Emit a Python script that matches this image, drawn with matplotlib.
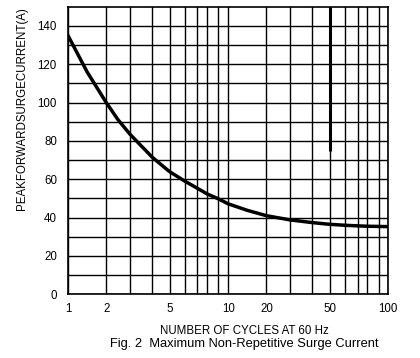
import matplotlib
matplotlib.use("Agg")
import matplotlib.pyplot as plt
import numpy as np

plt.rcParams['font.family'] = ['Liberation Sans', 'DejaVu Sans']

# surge current vs number of cycles
cycles = [1, 1.5, 2, 2.5, 3, 4, 5, 6, 7, 8, 9, 10, 15, 20, 30, 40, 50,
          60, 70, 80, 90, 100]
current = [135, 116, 100, 91, 83.5, 71.5, 64, 59, 55.3, 52.3, 49.8, 47.2,
           43.8, 41, 38.8, 37.4, 36.5, 36, 35.7, 35.5, 35.4, 35.3]

x_ticks = [1, 2, 5, 10, 20, 50, 100]
x_minor = [3, 4, 6, 7, 8, 9, 30, 40, 60, 70, 80, 90]
y_ticks = [0, 20, 40, 60, 80, 100, 120, 140]
y_minor = [10, 30, 50, 70, 90, 110, 130]

# the paper's log grid is not a true log: position of 1..10 within a decade
mant = np.arange(1, 11)
frac = [0, 0.239, 0.387, 0.526, 0.634, 0.730, 0.808, 0.870, 0.939, 1.0]


def fwd(x):
    x = np.clip(np.asarray(x, dtype=float), 1e-6, None)
    d = np.floor(np.log10(x) + 1e-12)
    m = x / 10.0**d
    return d + np.interp(m, mant, frac)


def inv(v):
    v = np.asarray(v, dtype=float)
    d = np.floor(v + 1e-12)
    return np.interp(v - d, frac, mant) * 10.0**d


fig = plt.figure(figsize=(4.2, 3.58), dpi=100)
ax = fig.add_axes([0.1619, 0.178, 0.7626, 0.803])
ax.set_xscale('function', functions=(fwd, inv))
ax.set_xlim(1, 100)
ax.set_ylim(0, 150)

ax.set_xticks(x_ticks)
ax.set_xticklabels([str(t) for t in x_ticks])
ax.set_xticks(x_minor, minor=True)
ax.set_yticks(y_ticks)
ax.set_yticks(y_minor, minor=True)
ax.tick_params(which='both', length=0, labelsize=8.3, colors='black')
ax.tick_params(axis='x', pad=6.5)
ax.tick_params(axis='y', pad=8)

ax.grid(True, which='both', color='black', lw=1.0)
ax.set_axisbelow(True)
for s in ax.spines.values():
    s.set_linewidth(1.2)

ax.plot(cycles, current, color='black', lw=2.5, solid_joinstyle='round')
ax.vlines(50, 75, 150, color='black', lw=2.2)

fig.text(0.0517, 0.697, 'PEAKFORWARDSURGECURRENT(A)', rotation=90,
         ha='center', va='center', fontsize=8.3)
fig.text(0.583, 0.0768, 'NUMBER OF CYCLES AT 60 Hz', ha='center',
         va='center', fontsize=8.3)
fig.text(0.582, 0.0405, 'Fig. 2  Maximum Non-Repetitive Surge Current',
         ha='center', va='center', fontsize=9.3)

fig.savefig('out.png', dpi=100)
